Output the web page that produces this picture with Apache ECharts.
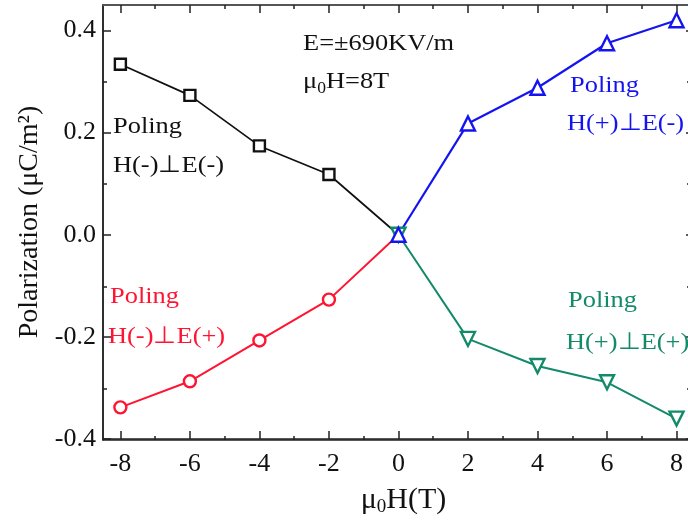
<!DOCTYPE html>
<html>
<head>
<meta charset="utf-8">
<script src="https://cdn.jsdelivr.net/npm/echarts@6/dist/echarts.min.js"></script>
<style>
html,body{margin:0;padding:0;background:#fff;}
#c{width:688px;height:522px;}
</style>
</head>
<body>
<div id="c"></div>
<script>
// ---- data ----
var xNeg = [-8, -6, -4, -2, 0];
var xPos = [0, 2, 4, 6, 8];
var blackHmEm = [0.334, 0.273, 0.174, 0.118, 0];
var redHmEp = [-0.338, -0.287, -0.207, -0.127, 0];
var blueHpEm = [0, 0.218, 0.288, 0.375, 0.420];
var greenHpEp = [0, -0.204, -0.257, -0.289, -0.360];
var xMajorTicks = [-8, -6, -4, -2, 0, 2, 4, 6, 8];
var xMinorTicks = [-7, -5, -3, -1, 1, 3, 5, 7];
var yMajorTicks = [-0.4, -0.2, 0, 0.2, 0.4];
var yMinorTicks = [-0.3, -0.1, 0.1, 0.3];
// visible x window (the original figure is cropped on the right)
var xMin = -8.5, xMax = 8.33;

var FONT = '"Liberation Serif", "Times New Roman", serif';
var C_BLACK = '#111111', C_RED = '#ff1432', C_BLUE = '#1414f0', C_GREEN = '#138a6a';

function pairs(xs, ys, hideZero) {
  return xs.map(function (x, i) {
    var d = { value: [x, ys[i]] };
    if (hideZero && x === 0) d.symbol = 'none';
    return d;
  });
}

var grid = { left: 103, top: 5, right: 0, height: 435 };
function axLine(c, w, show) { return { show: show !== false, onZero: false, lineStyle: { color: c || '#222', width: w || 1.5 } }; }

function xAx(gridIndex, pos, ticks, len, labels) {
  return {
    type: 'value', gridIndex: gridIndex, position: pos, min: xMin, max: xMax,
    axisLine: pos === 'top' ? axLine('#555', 2) : axLine(),
    splitLine: { show: false },
    axisTick: { show: true, inside: true, length: len, customValues: ticks, lineStyle: { color: '#222', width: 1.5 } },
    axisLabel: labels ? {
      show: true, customValues: ticks, margin: 12, color: '#111', fontSize: 26, fontFamily: FONT
    } : { show: false },
    name: labels ? '{a|μ}{s|0}{a|H(T)}' : '',
    nameLocation: 'middle', nameGap: 44,
    nameTextStyle: labels ? { padding: [0, 0, 0, 16], rich: {
      a: { fontSize: 30, fontFamily: FONT, color: '#111' },
      s: { fontSize: 19, fontFamily: FONT, color: '#111', padding: [15, 0, 0, 0] }
    } } : {}
  };
}
function yAx(gridIndex, pos, ticks, len, labels) {
  return {
    type: 'value', gridIndex: gridIndex, position: pos, min: -0.4, max: 0.45,
    axisLine: pos === 'right' ? axLine('#222', 1.5, false) : axLine(), splitLine: { show: false },
    axisTick: { show: true, inside: true, length: pos === 'right' ? Math.max(1, len - 6) : len, customValues: ticks, lineStyle: { color: '#222', width: 1.5 } },
    axisLabel: labels ? {
      show: true, customValues: ticks, margin: 7, color: '#111', fontSize: 26, fontFamily: FONT,
      formatter: function (v) { return v.toFixed(1); }
    } : { show: false },
    name: labels ? 'Polarization (μC/m²)' : '',
    nameLocation: 'middle', nameGap: 58, nameRotate: 90,
    nameTextStyle: { fontSize: 28, fontFamily: FONT, color: '#111' }
  };
}

function lineSeries(name, xs, ys, color, symbol, rotate, size, hideZero, lw) {
  return {
    name: name, type: 'line', xAxisIndex: 0, yAxisIndex: 0,
    data: pairs(xs, ys, hideZero),
    symbol: symbol, symbolSize: size, symbolRotate: rotate || 0,
    showAllSymbol: true,
    lineStyle: { color: color, width: lw },
    itemStyle: { color: '#fff', borderColor: color, borderWidth: 2.4 },
    emphasis: { disabled: true },
    z: 3
  };
}

var chart = echarts.init(document.getElementById('c'), null, { renderer: 'canvas' });

function txt(x, y, s, color) {
  return {
    type: 'text', x: x, y: y, z: 10, scaleX: 1.1, scaleY: 1,
    style: { text: s, fill: color, font: '24px ' + FONT, verticalAlign: 'middle' }
  };
}

chart.setOption({
  animation: false,
  backgroundColor: '#fff',
  grid: [grid, grid],
  xAxis: [
    xAx(0, 'bottom', xMajorTicks, 8, true),
    xAx(0, 'top', xMajorTicks, 8, false),
    xAx(1, 'bottom', xMinorTicks, 4, false),
    xAx(1, 'top', xMinorTicks, 4, false)
  ],
  yAxis: [
    yAx(0, 'left', yMajorTicks, 8, true),
    yAx(0, 'right', yMajorTicks, 8, false),
    yAx(1, 'left', yMinorTicks, 4, false),
    yAx(1, 'right', yMinorTicks, 4, false)
  ],
  series: [
    lineSeries('H(-)⊥E(-)', xNeg, blackHmEm, C_BLACK, 'rect', 0, 11, true, 1.7),
    lineSeries('H(-)⊥E(+)', xNeg, redHmEp, C_RED, 'circle', 0, 12, true, 2),
    lineSeries('H(+)⊥E(+)', xPos, greenHpEp, C_GREEN, 'triangle', 180, 14, false, 2),
    lineSeries('H(+)⊥E(-)', xPos, blueHpEm, C_BLUE, 'triangle', 0, 14, false, 2.2)
  ],
  graphic: [
    txt(303, 44, 'E=±690KV/m', '#111'),
    { type: 'text', x: 303, y: 82, z: 10, scaleX: 1.1, style: {
      text: '{a|μ}{s|0}{a|H=8T}', fill: '#111', verticalAlign: 'middle',
      rich: { a: { font: '24px ' + FONT, fill: '#111' }, s: { font: '16px ' + FONT, fill: '#111', padding: [14, 0, 0, 0] } }
    } },
    txt(113, 127, 'Poling', C_BLACK),
    txt(113, 166, 'H(-)⊥E(-)', C_BLACK),
    txt(570, 86, 'Poling', C_BLUE),
    txt(567, 124, 'H(+)⊥E(-)', C_BLUE),
    txt(110, 297, 'Poling', C_RED),
    txt(108, 337, 'H(-)⊥E(+)', C_RED),
    txt(568, 301, 'Poling', C_GREEN),
    txt(566, 343, 'H(+)⊥E(+)', C_GREEN)
  ]
});
</script>
</body>
</html>
